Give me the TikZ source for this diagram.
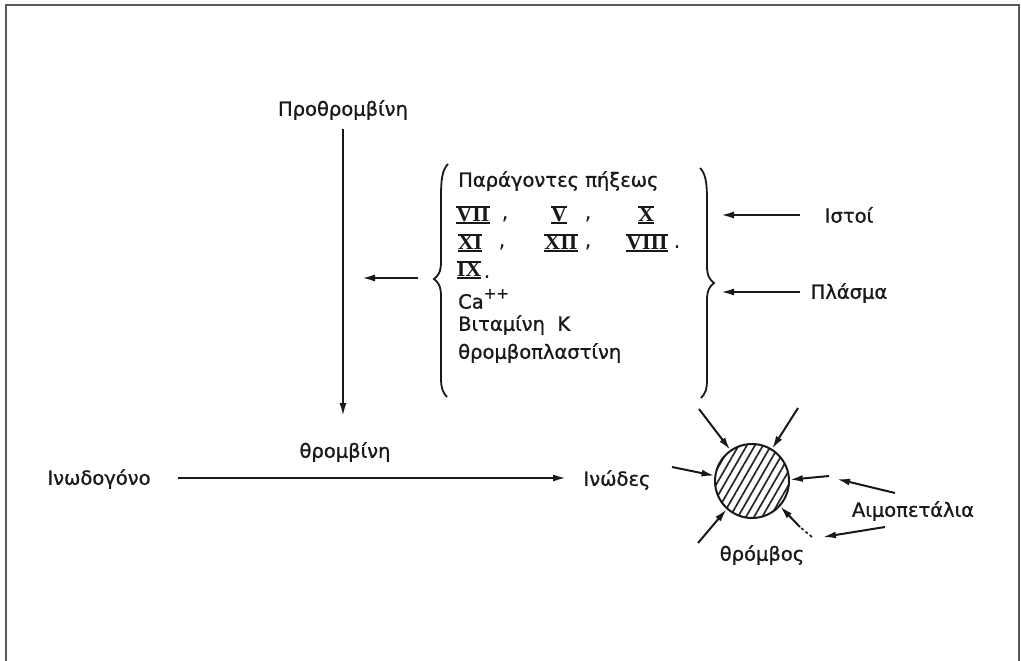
\documentclass[tikz,border=0pt]{standalone}
\usepackage{fontspec}
\setmainfont{DejaVu Sans}[BoldFont={DejaVu Sans}, BoldFeatures={FakeBold=1.0}]
\newfontfamily\numfont{Liberation Serif}
\usetikzlibrary{arrows.meta,patterns.meta}
\newcommand{\rnum}[1]{{\numfont\bfseries\setbox0\hbox{#1}\rlap{\rule[-2pt]{\wd0}{1.6pt}}\rlap{\raisebox{\dimexpr\ht0-0.4pt\relax}{\rule{\wd0}{1.6pt}}}\box0}}
\begin{document}
\begin{tikzpicture}[x=1pt,y=-1pt,
  lbl/.style={font=\fontsize{19.5}{24}\selectfont\bfseries, inner sep=0pt, text=black!90},
  num/.style={font=\fontsize{22}{26}\selectfont, inner sep=0pt, text=black!90},
  arr/.style={-{Latex[length=13pt,width=7pt]}, line width=2pt, black!90},
  brace/.style={line width=1.8pt, black!90},
  frame/.style={line width=2pt, black!65}]
\useasboundingbox (0,0) rectangle (1021,661);
\draw[frame] (6,662) -- (6,5) -- (1019,5) -- (1019,662);

% vertical chain
\node[lbl] (pro) at (343,110) {Προθρομβίνη};
\coordinate (vend) at (343,416);
\draw[arr] (pro.south) ++(0,9) coordinate (vstart) -- (vend);

% list of factors
\node[lbl,anchor=west] (t1) at (458,181) {Παράγοντες πήξεως};
\node[num] (n7) at (473,215) {\rnum{VII}};
\node[num] (c1) at (505,219) {,};
\node[num] (n5) at (559,215) {\rnum{V}};
\node[num] (c2) at (588,219) {,};
\node[num] (n10) at (646,215) {\rnum{X}};
\node[num] (n11) at (470,243) {\rnum{XI}};
\node[num] (c3) at (502,247) {,};
\node[num] (n12) at (561,243) {\rnum{XII}};
\node[num] (c4) at (588,247) {,};
\node[num] (n8) at (647,243) {\rnum{VIII}};
\node[num] (c5) at (677,247) {.};
\node[num] (n9) at (469,270) {\rnum{IX}};
\node[num] (c6) at (487,277) {.};
\node[lbl,anchor=west] (ca) at (458,299) {Ca\raisebox{10pt}{\fontsize{15}{16}\selectfont ++}};
\node[lbl,anchor=west] (vit) at (458,325) {Βιταμίνη\ \ K};
\node[lbl,anchor=west] (thr) at (458,353) {θρομβοπλαστίνη};

% braces
\draw[brace] (448,164) .. controls (442,170) and (441,180) .. (441,198)
  -- (441,262) .. controls (441,272) and (438,276) .. (434,279)
  coordinate (lbr)
  .. controls (438,282) and (441,286) .. (441,296)
  -- (441,378) .. controls (441,388) and (443,393) .. (447,397);
\draw[brace] (700,168) .. controls (706,174) and (707,184) .. (707,200)
  -- (707,266) .. controls (707,276) and (710,280) .. (714,283)
  coordinate (rbr)
  .. controls (710,286) and (707,290) .. (707,300)
  -- (707,380) .. controls (707,390) and (705,394) .. (701,398);

\coordinate (la) at (418,278);
\coordinate (lb) at (362,278);
\draw[arr] (la) -- (lb);

\node[lbl] (ist) at (849,215) {Ιστοί};
\node[lbl] (pla) at (849,293) {Πλάσμα};
\coordinate (ia) at (721,215);
\coordinate (pa) at (721,292);
\draw[arr] (800,215) coordinate (ias) -- (ia);
\draw[arr] (800,292) coordinate (pas) -- (pa);

% horizontal chain
\node[lbl] (thb) at (345,452) {θρομβίνη};
\node[lbl] (inog) at (99,479) {Ινωδογόνο};
\node[lbl] (inod) at (617,480) {Ινώδες};
\draw[arr] (178,478) coordinate (hstart) -- (566,478) coordinate (hend);

% thrombus
\node[circle, draw, line width=2pt, black!90, minimum size=74pt, inner sep=0pt,
  pattern={Lines[angle=60,distance=7pt,line width=1.7pt]}, pattern color=black!85] (c) at (752,481) {};
\coordinate (s1) at (699,409);
\coordinate (s2) at (798,408);
\coordinate (s3) at (672,467);
\coordinate (s4) at (829,476);
\coordinate (s5) at (698,543);
\coordinate (s6) at (812,537);
\coordinate (s6b) at (800,527);
\draw[arr] (s1) -- (c.125);
\draw[arr] (s2) -- (c.58);
\draw[arr] (s3) -- (c.172);
\draw[arr] (s4) -- (c.2);
\draw[arr] (s5) -- (c.228);
\draw[line width=1.7pt, black!85, dash pattern=on 3pt off 2.5pt] (s6) -- (s6b);
\draw[arr] (s6b) -- (c.-42);

\node[lbl] (aim) at (913,511) {Αιμοπετάλια};
\node[lbl] (thro) at (762,555) {θρόμβος};
\coordinate (a1) at (837,479);
\coordinate (a2) at (823,537);
\draw[arr] (895,493) coordinate (a1s) -- (a1);
\draw[arr] (885,527) coordinate (a2s) -- (a2);
\end{tikzpicture}
\end{document}
